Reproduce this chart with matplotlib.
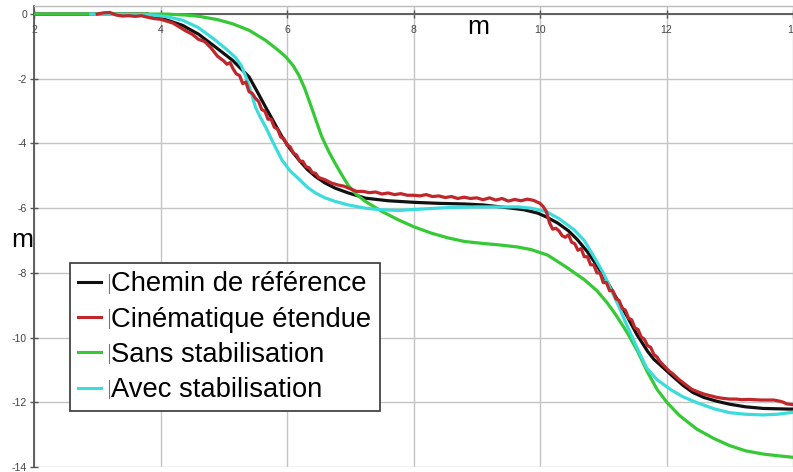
import matplotlib
matplotlib.use("Agg")
import matplotlib.pyplot as plt
from matplotlib.lines import Line2D

plt.rcParams['font.family'] = ['Liberation Sans', 'DejaVu Sans']

# ---- data ----
ref_x = [2.0, 3.8, 4.0, 4.2, 4.35, 4.6, 4.87, 5.14, 5.4, 5.53, 5.66, 5.79, 5.92, 6.05, 6.19, 6.32,
         6.45, 6.6, 6.76, 6.97, 7.24, 7.6, 8.02, 8.4, 8.81, 9.1, 9.33, 9.55, 9.75, 9.96, 10.09,
         10.28, 10.45, 10.59, 10.75, 10.91, 11.07, 11.22, 11.38, 11.53, 11.7, 11.8, 11.96, 12.1,
         12.27, 12.42, 12.59, 12.8, 13.0, 13.25, 13.53, 13.94, 14.0]
ref_y = [0.0, 0.0, -0.12, -0.25, -0.35, -0.62, -1.02, -1.43, -1.94, -2.4, -2.87, -3.33, -3.79, -4.17,
         -4.51, -4.8, -5.02, -5.22, -5.38, -5.53, -5.69, -5.77, -5.82, -5.85, -5.87, -5.9, -5.95,
         -6.0, -6.05, -6.15, -6.26, -6.46, -6.7, -6.97, -7.35, -7.8, -8.3, -8.82, -9.35, -9.9,
         -10.42, -10.67, -10.95, -11.2, -11.49, -11.7, -11.85, -11.97, -12.06, -12.14, -12.19,
         -12.21, -12.21]

kin_x = [3.0, 3.1, 3.2, 3.3, 3.4, 3.5, 3.6, 3.7, 3.8, 3.9, 4.0, 4.1, 4.2, 4.3, 4.4, 4.5, 4.6, 4.7,
         4.8, 4.9, 5.0, 5.05, 5.1, 5.15, 5.2, 5.25, 5.3, 5.35, 5.4, 5.45, 5.5, 5.55, 5.6, 5.65,
         5.7, 5.75, 5.8, 5.85, 5.9, 5.95, 6.0, 6.05, 6.1, 6.15, 6.2, 6.25, 6.3, 6.35, 6.4, 6.45,
         6.5, 6.6, 6.7, 6.8, 6.9, 7.0, 7.1, 7.2, 7.3, 7.4, 7.5, 7.6, 7.7, 7.8, 7.9, 8.0, 8.1,
         8.2, 8.3, 8.4, 8.5, 8.6, 8.7, 8.8, 8.9, 9.0, 9.1, 9.2, 9.3, 9.4, 9.5, 9.6, 9.7, 9.8,
         9.9, 10.0, 10.05, 10.1, 10.15, 10.2, 10.25, 10.3, 10.35, 10.4, 10.45, 10.5, 10.55, 10.6,
         10.65, 10.7, 10.75, 10.8, 10.85, 10.9, 10.95, 11.0, 11.05, 11.1, 11.15, 11.2, 11.25,
         11.3, 11.35, 11.4, 11.45, 11.5, 11.55, 11.6, 11.65, 11.7, 11.75, 11.8, 11.85, 11.9,
         11.95, 12.0, 12.05, 12.1, 12.2, 12.3, 12.4, 12.5, 12.6, 12.7, 12.8, 12.9, 13.0, 13.1,
         13.2, 13.3, 13.5, 13.7, 13.8, 13.85, 13.9, 14.0]
kin_y = [0.0, 0.04, 0.05, -0.03, -0.06, -0.05, -0.07, -0.05, -0.1, -0.14, -0.16, -0.22, -0.28,
         -0.4, -0.52, -0.62, -0.78, -0.85, -1.05, -1.3, -1.45, -1.55, -1.5, -1.7, -1.85, -1.9,
         -2.15, -2.1, -2.4, -2.45, -2.6, -2.7, -2.95, -3.0, -3.25, -3.25, -3.5, -3.55, -3.8,
         -3.85, -4.05, -4.1, -4.3, -4.35, -4.55, -4.55, -4.72, -4.75, -4.9, -4.92, -5.05, -5.12,
         -5.22, -5.28, -5.32, -5.4, -5.48, -5.48, -5.52, -5.5, -5.56, -5.53, -5.58, -5.55, -5.6,
         -5.6, -5.62, -5.58, -5.64, -5.62, -5.67, -5.64, -5.7, -5.66, -5.7, -5.68, -5.74, -5.68,
         -5.75, -5.7, -5.78, -5.73, -5.77, -5.72, -5.76, -5.85, -5.95, -6.1, -6.45, -6.65, -6.62,
         -6.7, -6.85, -6.9, -6.82, -7.05, -7.1, -7.3, -7.25, -7.5, -7.5, -7.75, -7.75, -8.0,
         -8.0, -8.3, -8.3, -8.55, -8.55, -8.8, -8.85, -9.1, -9.15, -9.4, -9.45, -9.7, -9.75,
         -9.98, -10.05, -10.25, -10.3, -10.52, -10.6, -10.75, -10.85, -10.95, -11.05, -11.12,
         -11.3, -11.45, -11.6, -11.68, -11.75, -11.8, -11.85, -11.88, -11.9, -11.9, -11.92,
         -11.91, -11.93, -11.93, -11.97, -12.0, -12.05, -12.07]

sans_x = [2.0, 4.1, 4.4, 4.61, 4.9, 5.14, 5.4, 5.66, 5.85, 5.98, 6.1, 6.19, 6.28, 6.39, 6.47, 6.55,
          6.66, 6.76, 6.86, 6.97, 7.1, 7.24, 7.5, 7.76, 8.0, 8.28, 8.55, 8.81, 9.1, 9.33, 9.65,
          9.86, 10.12, 10.4, 10.7, 10.9, 11.06, 11.2, 11.38, 11.55, 11.69, 11.85, 12.01, 12.2,
          12.48, 12.75, 13.0, 13.25, 13.53, 13.75, 14.0]
sans_y = [0.0, 0.0, -0.03, -0.07, -0.17, -0.3, -0.5, -0.81, -1.1, -1.32, -1.6, -1.9, -2.3, -2.9,
          -3.35, -3.79, -4.25, -4.61, -4.95, -5.3, -5.58, -5.79, -6.1, -6.36, -6.57, -6.77, -6.92,
          -7.03, -7.09, -7.13, -7.2, -7.28, -7.45, -7.8, -8.21, -8.55, -8.92, -9.3, -9.85,
          -10.45, -11.03, -11.6, -12.01, -12.4, -12.83, -13.12, -13.34, -13.5, -13.6, -13.65, -13.7]

avec_x = [2.9, 3.8, 4.1, 4.35, 4.6, 4.87, 5.05, 5.19, 5.28, 5.35, 5.43, 5.5, 5.58, 5.66, 5.8, 5.92,
          6.05, 6.19, 6.32, 6.45, 6.6, 6.76, 6.97, 7.24, 7.5, 7.76, 8.1, 8.55, 9.0, 9.33, 9.65,
          9.86, 10.09, 10.3, 10.54, 10.7, 10.85, 11.0, 11.12, 11.25, 11.38, 11.53, 11.69, 11.85,
          12.06, 12.25, 12.48, 12.75, 13.0, 13.25, 13.53, 13.75, 14.0]
avec_y = [0.0, -0.02, -0.08, -0.19, -0.42, -0.81, -1.1, -1.35, -1.6, -1.94, -2.4, -2.87, -3.2,
          -3.48, -4.05, -4.51, -4.85, -5.1, -5.35, -5.53, -5.68, -5.79, -5.9, -6.0, -6.05, -6.07,
          -6.03, -5.98, -5.96, -5.96, -5.96, -6.0, -6.1, -6.32, -6.67, -7.0, -7.49, -8.0, -8.51,
          -9.05, -9.65, -10.3, -10.95, -11.3, -11.6, -11.82, -12.01, -12.2, -12.32, -12.37,
          -12.39, -12.37, -12.31]

labels = ["Chemin de référence", "Cinématique étendue", "Sans stabilisation", "Avec stabilisation"]
colors = ["#111111", "#c0262a", "#35c935", "#3ddcdc"]

xticks = [2, 4, 6, 8, 10, 12, 14]
yticks = [0, -2, -4, -6, -8, -10, -12, -14]

# ---- figure ----
W, H = 793, 472
fig = plt.figure(figsize=(W / 100, H / 100), dpi=100)
ax_top_px, ax_bot_px = 6, 467
ax = fig.add_axes([34 / W, 1 - ax_bot_px / H, 1 - 34 / W, (ax_bot_px - ax_top_px) / H])
ax.set_xlim(2, 13.95)
ax.set_ylim(-14, 0.25)

lw = 2.3
ax.plot(ref_x, ref_y, color=colors[0], lw=lw, zorder=3)
ax.plot(sans_x, sans_y, color=colors[2], lw=lw, zorder=4)
ax.plot(avec_x, avec_y, color=colors[3], lw=lw, zorder=5)
ax.plot(kin_x, kin_y, color=colors[1], lw=lw, zorder=6)

ax.set_xticks(xticks)
ax.set_yticks(yticks)
ax.set_xticklabels([str(t) for t in xticks])
ax.set_yticklabels([str(t) for t in yticks])
ax.grid(True, color="#c4c4c4", lw=1.0, zorder=0)

ax.spines['bottom'].set_position(('data', 0))
ax.spines['bottom'].set_color('#555555')
ax.spines['bottom'].set_linewidth(1.3)
ax.spines['bottom'].set_zorder(2)
ax.spines['left'].set_color('#555555')
ax.spines['left'].set_linewidth(1.3)
ax.spines['top'].set_color('#bbbbbb')
ax.spines['top'].set_linewidth(1.0)
ax.spines['right'].set_visible(False)

ax.tick_params(axis='x', direction='inout', length=6, width=1, colors='#555555',
               labelsize=7.5, labelcolor='#444444', pad=5)
ax.tick_params(axis='y', direction='inout', length=6, width=1, colors='#555555',
               labelsize=7.5, labelcolor='#444444', pad=2)

fig.text(478 / W, 1 - 27 / H, "m", fontsize=19, ha='center', va='center')
fig.text(22 / W, 1 - 240 / H, "m", fontsize=19, ha='center', va='center')

handles = [Line2D([], [], color=c, lw=2.2) for c in colors]
ax_w_px = W - 34
ax_h_px = ax_bot_px - ax_top_px
leg = ax.legend(handles, labels, loc='upper left',
                bbox_to_anchor=((70 - 34) / ax_w_px, 1 - (263 - ax_top_px) / ax_h_px),
                fontsize=19.7, frameon=True, fancybox=False, framealpha=1, edgecolor='#444444',
                handlelength=0.85, handletextpad=0.36, labelspacing=0.34, borderpad=0.3,
                borderaxespad=0)
leg.get_frame().set_linewidth(1.3)
leg.set_zorder(10)

# thin vertical bars just before each legend label (as in the reference)
fig.canvas.draw()
renderer = fig.canvas.get_renderer()
for t in leg.get_texts():
    bb = t.get_window_extent(renderer)
    xb = bb.x0 - 2
    y0 = bb.y0 + 0.18 * bb.height
    y1 = bb.y1 - 0.1 * bb.height
    fig.add_artist(Line2D([xb / W, xb / W], [y0 / H, y1 / H], transform=fig.transFigure,
                          color='#777777', lw=0.8, zorder=20))

fig.savefig("out.png", dpi=100)
